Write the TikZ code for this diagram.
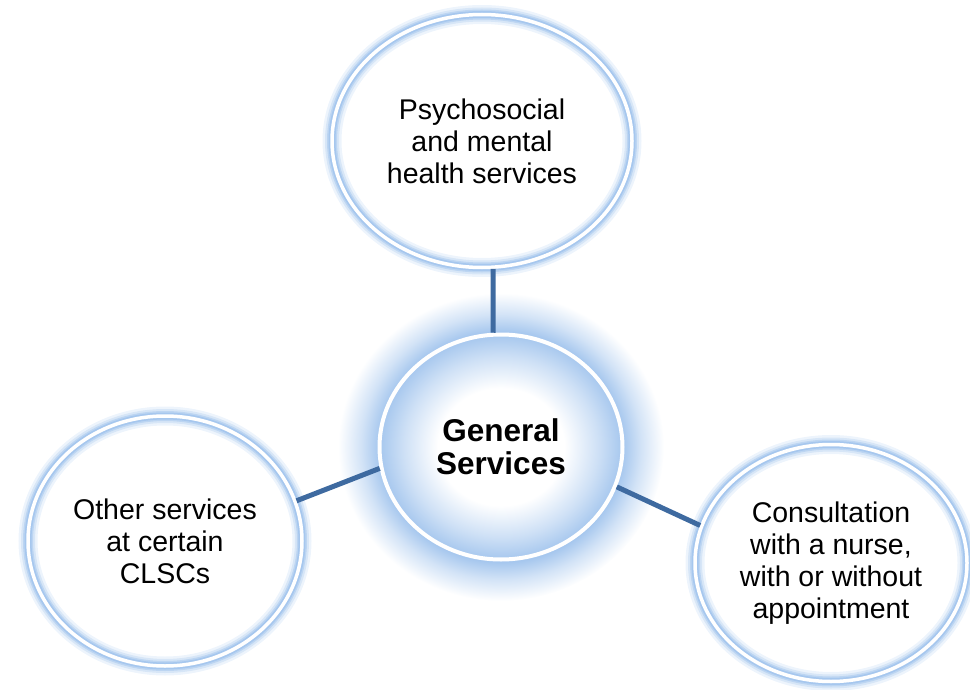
\documentclass[tikz,border=0pt]{standalone}
\usepackage{fontspec}
\setmainfont{Liberation Sans}
\usetikzlibrary{shapes.geometric}

\definecolor{glowblue}{RGB}{166,199,238}
\definecolor{linkblue}{RGB}{62,106,160}

\pgfdeclareradialshading{glowout}{\pgfpointorigin}{color(0bp)=(glowblue); color(18.7bp)=(glowblue); color(21.5bp)=(glowblue!50); color(25bp)=(white); color(50bp)=(white)}
\pgfdeclareradialshading{glowin}{\pgfpointorigin}{color(0bp)=(white); color(13bp)=(white); color(20bp)=(glowblue!55); color(25bp)=(glowblue); color(50bp)=(glowblue)}

\tikzset{
  bubble/.style={ellipse, inner sep=0pt, align=center,
    font=\fontsize{28.5}{32}\selectfont,
    preaction={draw=glowblue!20, line width=19pt},
    preaction={draw=glowblue!45, line width=14pt},
    preaction={draw=glowblue!75, line width=10pt},
    preaction={draw=glowblue, line width=7pt},
    draw=white, line width=3.5pt},
  hub/.style={ellipse, inner sep=0pt, align=center,
    font=\bfseries\fontsize{31.5}{33}\selectfont,
    shading=glowin, draw=white, line width=4pt},
  link/.style={draw=linkblue, line width=5pt}
}

\begin{document}
\begin{tikzpicture}[x=1pt,y=-1pt]
  \useasboundingbox (0,0) rectangle (970,690);

  \shade[shading=glowout] (501,447) ellipse [x radius=163, y radius=154];

  \node[hub, minimum width=243pt, minimum height=225pt] (hub) at (501,447) {General\\Services};

  \node[bubble, minimum width=300pt, minimum height=253pt] (psych) at (482,141)
    {Psychosocial\\and mental\\health services};
  \node[bubble, minimum width=274pt, minimum height=250pt] (other) at (165,541)
    {Other services\\at certain\\CLSCs};
  \node[bubble, minimum width=272pt, minimum height=237pt] (nurse) at (831,563)
    {Consultation\\with a nurse,\\with or without\\appointment};

  \draw[link] (psych.275) -- (hub.94);
  \draw[link] (other.17) -- (hub.190);
  \draw[link] (hub.341) -- (nurse.164);
\end{tikzpicture}
\end{document}
